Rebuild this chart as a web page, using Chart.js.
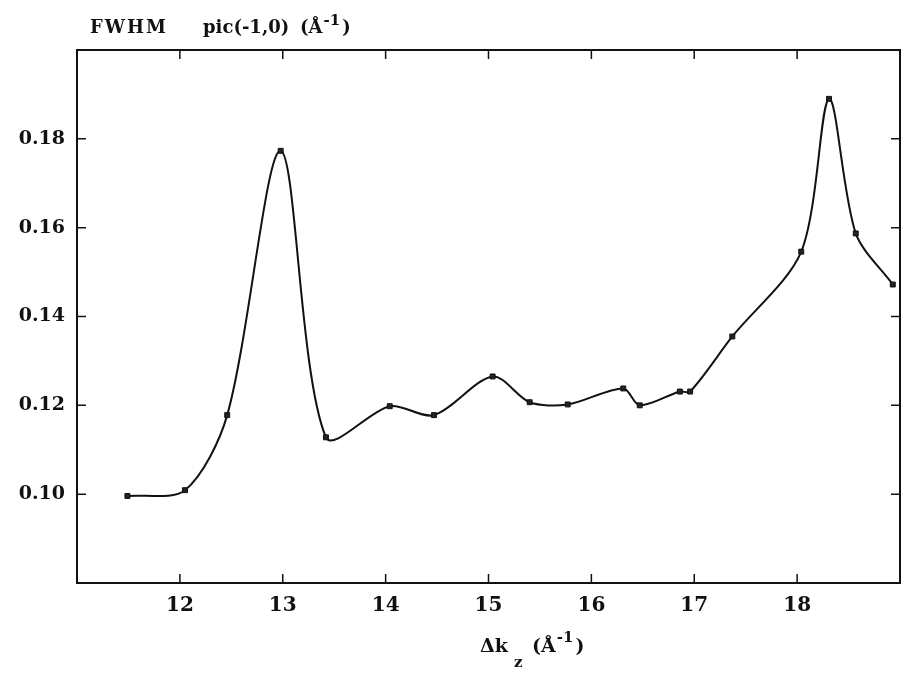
<!DOCTYPE html>
<html>
<head>
<meta charset="utf-8">
<script src="https://cdn.jsdelivr.net/npm/chart.js@4.4.1/dist/chart.umd.min.js"></script>
<style>
  html, body { margin: 0; padding: 0; background: #fff; overflow: hidden; }
  canvas { display: block; }
</style>
</head>
<body>
<canvas id="myChart" width="905" height="675"></canvas>
<script>
// data
var dk = [11.49, 12.05, 12.46, 12.98, 13.42, 14.04, 14.47, 15.04, 15.40, 15.77, 16.31, 16.47, 16.86, 16.96, 17.37, 18.04, 18.31, 18.57, 18.93];
var fwhm = [0.0996, 0.1009, 0.1178, 0.1773, 0.1128, 0.1198, 0.1178, 0.1265, 0.1207, 0.1202, 0.1238, 0.1200, 0.1231, 0.1231, 0.1355, 0.1546, 0.1890, 0.1587, 0.1472];
var xTicks = [12, 13, 14, 15, 16, 17, 18];
var yTicks = [0.10, 0.12, 0.14, 0.16, 0.18];

var pts = [];
for (var i = 0; i < dk.length; i++) {
    pts.push({x: dk[i], y: fwhm[i]});
}

var FONT = "'DejaVu Serif', 'Liberation Serif', serif";

// frame, inward ticks and the titles
var framePlugin = {
    id: 'frame',
    afterDraw: function(chart) {
        var ctx = chart.ctx;
        var a = chart.chartArea;
        var xs = chart.scales.x, ys = chart.scales.y;
        ctx.save();
        ctx.strokeStyle = '#111';
        ctx.lineWidth = 2;
        ctx.strokeRect(a.left, a.top, a.right - a.left, a.bottom - a.top);
        ctx.lineWidth = 1.5;
        var t = 9;
        xTicks.forEach(function(v) {
            var px = xs.getPixelForValue(v);
            ctx.beginPath();
            ctx.moveTo(px, a.bottom); ctx.lineTo(px, a.bottom - t);
            ctx.moveTo(px, a.top); ctx.lineTo(px, a.top + t);
            ctx.stroke();
        });
        yTicks.forEach(function(v) {
            var py = ys.getPixelForValue(v);
            ctx.beginPath();
            ctx.moveTo(a.left, py); ctx.lineTo(a.left + t, py);
            ctx.moveTo(a.right, py); ctx.lineTo(a.right - t, py);
            ctx.stroke();
        });

        ctx.fillStyle = '#111';
        ctx.textBaseline = 'alphabetic';
        ctx.textAlign = 'left';
        // top title
        ctx.font = 'bold 18px ' + FONT;
        ctx.letterSpacing = '2px';
        ctx.fillText('FWHM', 90, 33);
        ctx.letterSpacing = '0px';
        ctx.fillText('pic(-1,0)', 203, 33);
        ctx.fillText('(Å', 300, 33);
        var w = ctx.measureText('(Å').width;
        ctx.font = 'bold 15px ' + FONT;
        ctx.fillText('-1', 300 + w + 1, 25);
        var w2 = ctx.measureText('-1').width;
        ctx.font = 'bold 18px ' + FONT;
        ctx.fillText(')', 300 + w + w2 + 3, 33);

        // bottom title
        var bx = 480, by = 652;
        ctx.font = 'bold 19px ' + FONT;
        ctx.fillText('Δk', bx, by);
        ctx.font = 'bold 15px ' + FONT;
        ctx.fillText('z', 514, by + 15);
        ctx.font = 'bold 19px ' + FONT;
        ctx.fillText('(Å', 532, by);
        var b2 = ctx.measureText('(Å').width;
        ctx.font = 'bold 15px ' + FONT;
        ctx.fillText('-1', 532 + b2 + 1, by - 10);
        var b3 = ctx.measureText('-1').width;
        ctx.font = 'bold 19px ' + FONT;
        ctx.fillText(')', 532 + b2 + b3 + 3, by);
        ctx.restore();
    }
};

const ctxFwhm = document.getElementById('myChart').getContext('2d');
const myChart = new Chart(ctxFwhm, {
    type: 'scatter',
    data: {
        datasets: [{
            label: 'FWHM',
            data: pts,
            showLine: true,
            tension: 0.3,
            borderColor: '#111',
            borderWidth: 2,
            pointStyle: 'rect',
            pointRadius: 3.5,
            pointBackgroundColor: '#222',
            pointBorderColor: '#111',
            pointBorderWidth: 1
        }]
    },
    options: {
        responsive: false,
        animation: false,
        layout: { padding: { top: 50, right: 2, left: 0, bottom: 0 } },
        plugins: {
            legend: { display: false },
            tooltip: { enabled: false }
        },
        scales: {
            x: {
                type: 'linear',
                min: 11,
                max: 19,
                afterFit: function(scale) { scale.height = 92; },
                afterBuildTicks: function(scale) {
                    scale.ticks = xTicks.map(function(v) { return {value: v}; });
                },
                grid: { display: false, drawTicks: false },
                border: { display: false },
                ticks: {
                    padding: 11,
                    color: '#111',
                    font: { family: FONT, size: 20, weight: 'bold' },
                    maxRotation: 0,
                    callback: function(v) { return v; }
                }
            },
            y: {
                type: 'linear',
                min: 0.08,
                max: 0.20,
                afterFit: function(scale) { scale.width = 77; },
                afterBuildTicks: function(scale) {
                    scale.ticks = yTicks.map(function(v) { return {value: v}; });
                },
                grid: { display: false, drawTicks: false },
                border: { display: false },
                ticks: {
                    padding: 12,
                    color: '#111',
                    font: { family: FONT, size: 19, weight: 'bold' },
                    callback: function(v) { return v.toFixed(2); }
                }
            }
        }
    },
    plugins: [framePlugin]
});
</script>
</body>
</html>
